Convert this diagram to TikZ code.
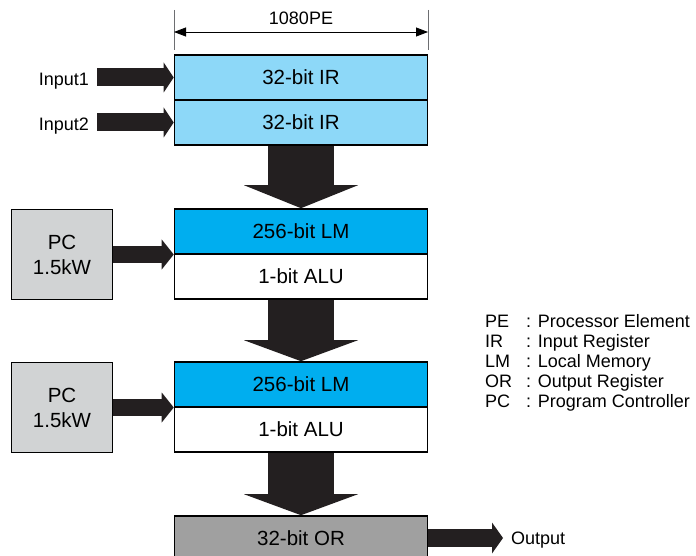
\documentclass[tikz,border=0pt]{standalone}
\usepackage{fontspec}
\setmainfont{Liberation Sans}
\usetikzlibrary{arrows.meta,calc}
\definecolor{irblue}{HTML}{8DD8F8}
\definecolor{lmblue}{HTML}{00AEEF}
\definecolor{pcgray}{HTML}{D1D3D4}
\definecolor{orgray}{HTML}{A0A0A0}
\definecolor{arrowcol}{HTML}{231F20}
\definecolor{dimgray}{HTML}{6D6E71}
\tikzset{
  box/.style={draw=black, line width=1.6pt, rectangle, minimum width=253pt, minimum height=45pt, inner sep=0pt,
    font=\fontsize{20.5}{24}\selectfont},
  pcbox/.style={draw=black, line width=1.6pt, rectangle, fill=pcgray, minimum width=101pt, minimum height=90pt,
    inner sep=0pt, align=center, font=\fontsize{20.5}{25}\selectfont},
  fat/.style n args={3}{draw=arrowcol, line width=#1, -{Triangle[width=#2,length=#3,line width=0pt]}},
  lbl/.style={inner sep=0pt, font=\fontsize{18}{21.6}\selectfont},
  dimline/.style={draw=dimgray, line width=0.6pt},
}
\begin{document}
\begin{tikzpicture}[x=1pt,y=-1pt]
\useasboundingbox (0,0) rectangle (696,556);
\clip (0,0) rectangle (696,556);
% dimension
\coordinate (dA1) at (174,10);
\coordinate (dA2) at (174,50);
\coordinate (dB1) at (428,10);
\coordinate (dB2) at (428,50);
\coordinate (dL) at (174,32);
\coordinate (dR) at (428,32);
\draw[dimline] (dA1) -- (dA2);
\draw[dimline] (dB1) -- (dB2);
\draw[line width=0.8pt, {Triangle[width=9pt,length=12pt]}-{Triangle[width=9pt,length=12pt]}] (dL) -- (dR);
\node[lbl, anchor=base] (pe) at (301,25) {1080PE};
% column boxes
\node[box, fill=irblue] (ir1) at (301,77.5) {32-bit IR};
\node[box, fill=irblue] (ir2) at (301,122.5) {32-bit IR};
\node[box, fill=lmblue] (lm1) at (301,231.5) {256-bit LM};
\node[box, fill=white] (alu1) at (301,276.5) {1-bit ALU};
\node[box, fill=lmblue] (lm2) at (301,384.5) {256-bit LM};
\node[box, fill=white] (alu2) at (301,429.5) {1-bit ALU};
\node[box, fill=orgray] (or) at (301,538.5) {32-bit OR};
% PCs
\node[pcbox] (pc1) at (62,254.5) {PC\\1.5kW};
\node[pcbox] (pc2) at (62,407.5) {PC\\1.5kW};
% inputs
\node[lbl, anchor=base east] (in1l) at (89,86) {Input1};
\node[lbl, anchor=base east] (in2l) at (89,131) {Input2};
\coordinate (in1s) at (97,77.5);
\coordinate (in2s) at (97,122.5);
\draw[fat={18pt}{30pt}{10pt}] (in1s) -- (ir1.west);
\draw[fat={18pt}{30pt}{10pt}] (in2s) -- (ir2.west);
% big down arrows
\draw[fat={66pt}{114pt}{23pt}] (ir2.south) -- (lm1.north);
\draw[fat={66pt}{114pt}{21pt}] (alu1.south) -- (lm2.north);
\draw[fat={66pt}{114pt}{21pt}] (alu2.south) -- (or.north);
% PC arrows
\draw[fat={17pt}{30pt}{12pt}] (pc1.east) -- (pc1.east -| lm1.west);
\draw[fat={17pt}{30pt}{12pt}] (pc2.east) -- (pc2.east -| lm2.west);
% output
\coordinate (outp) at (503,538);
\draw[fat={18pt}{31pt}{11pt}] (or.east |- outp) -- (outp);
\node[lbl, anchor=base west] (outl) at (511,544) {Output};
% legend
\node[lbl, anchor=base west] (k1) at (485,327) {PE};
\node[lbl, anchor=base west] (v1) at (526,327) {: Processor Element};
\node[lbl, anchor=base west] (k2) at (485,347) {IR};
\node[lbl, anchor=base west] (v2) at (526,347) {: Input Register};
\node[lbl, anchor=base west] (k3) at (485,367) {LM};
\node[lbl, anchor=base west] (v3) at (526,367) {: Local Memory};
\node[lbl, anchor=base west] (k4) at (485,387) {OR};
\node[lbl, anchor=base west] (v4) at (526,387) {: Output Register};
\node[lbl, anchor=base west] (k5) at (485,407) {PC};
\node[lbl, anchor=base west] (v5) at (526,407) {: Program Controller};
\end{tikzpicture}
\end{document}
